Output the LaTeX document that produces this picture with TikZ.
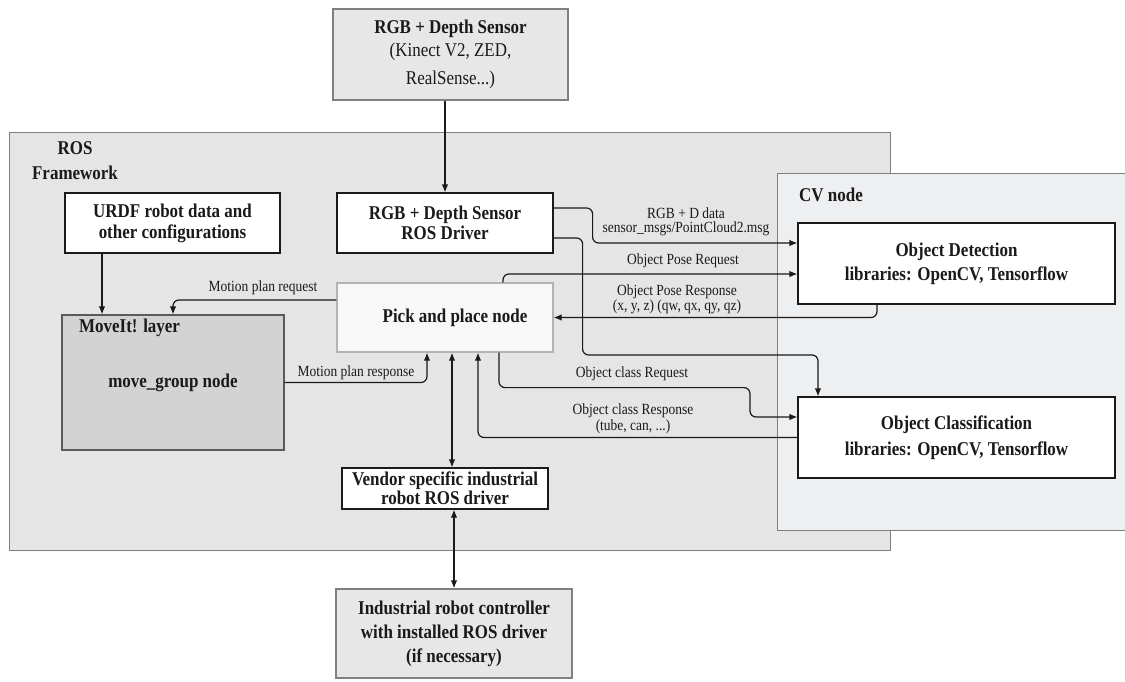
\documentclass[tikz,border=0pt]{standalone}
\usepackage{fontspec}
\setmainfont[FakeStretch=0.87]{Liberation Serif}
\usetikzlibrary{arrows.meta,calc}
\definecolor{rosfill}{HTML}{E5E5E5}
\definecolor{cvfill}{HTML}{EEEFF1}
\definecolor{outfill}{HTML}{E7E7E7}
\definecolor{movefill}{HTML}{D3D3D3}
\definecolor{pickfill}{HTML}{F8F8F8}
\definecolor{edgegray}{HTML}{808080}
\definecolor{ink}{HTML}{1A1A1A}
\newcommand\BFbig{\fontsize{19.5}{21}\selectfont\bfseries}
\newcommand\RMbig{\fontsize{19.5}{21}\selectfont}
\newcommand\SMlbl{\fontsize{15.5}{13}\selectfont}
\begin{document}
\begin{tikzpicture}[x=1pt,y=-1pt,
  container/.style={draw=edgegray, line width=1pt, inner sep=0pt},
  box/.style={draw=ink, line width=1.2pt, fill=white, inner sep=0pt, align=center, font=\BFbig, text=ink},
  outbox/.style={draw=edgegray, line width=1.2pt, fill=outfill, inner sep=0pt, align=center, text=ink},
  title/.style={font=\BFbig, text=ink, inner sep=0pt},
  lbl/.style={font=\SMlbl, text=ink, inner sep=0pt, align=center},
  conn/.style={draw=ink, line width=1.2pt, rounded corners=6pt},
  arr/.style={conn, -{Latex[length=8pt,width=6.5pt]}},
  dbl/.style={conn, {Latex[length=8pt,width=6.5pt]}-{Latex[length=8pt,width=6.5pt]}}
]
\useasboundingbox (0,0) rectangle (1125,681);

% containers
\node[container, fill=rosfill, minimum width=881pt, minimum height=418pt] (ros) at (449.5,341) {};
\node[container, fill=cvfill, minimum width=352pt, minimum height=357pt] (cv) at (953,351.5) {};
\node[title] (rostitle) at (75,148) {ROS};
\node[title] (rosfw) at (75,173) {Framework};
\node[title, anchor=west] (cvtitle) at (799,195) {CV node};

% outside boxes
\node[outbox, minimum width=235pt, minimum height=91pt, font=\RMbig, execute at begin node=\setlength{\baselineskip}{23pt}] (sensor) at (450.5,54.5)
  {\textbf{RGB + Depth Sensor}\\(Kinect V2, ZED,\\[5pt]RealSense...)};
\node[outbox, minimum width=236pt, minimum height=89pt, font=\BFbig, execute at begin node=\setlength{\baselineskip}{24pt}] (ctrl) at (454,633.5)
  {Industrial robot controller\\with installed ROS driver\\(if necessary)};

% inner boxes
\node[box, minimum width=215pt, minimum height=60pt] (urdf) at (172.5,223) {URDF robot data and\\other configurations};
\node[box, fill=movefill, draw=edgegray!70!black, minimum width=222pt, minimum height=135pt] (moveit) at (173,382.5) {move\_group node};
\node[title, anchor=west] (movetitle) at (79,328) {MoveIt! layer};
\node[box, minimum width=216pt, minimum height=60pt, execute at begin node=\setlength{\baselineskip}{19.5pt}] (driver) at (445,223) {RGB + Depth Sensor\\ROS Driver};
\node[box, fill=pickfill, draw=edgegray!60, minimum width=216pt, minimum height=69pt] (pick) at (445,317.5) {\hspace*{20pt}Pick and place node};
\node[box, minimum width=317pt, minimum height=81pt, execute at begin node=\setlength{\baselineskip}{24pt}] (det) at (956.5,263.5) {Object Detection\\libraries: OpenCV, Tensorflow};
\node[box, minimum width=317pt, minimum height=81pt, execute at begin node=\setlength{\baselineskip}{26.5pt}] (cls) at (956.5,437.5) {Object Classification\\libraries: OpenCV, Tensorflow};
\node[box, minimum width=206pt, minimum height=41pt, execute at begin node=\setlength{\baselineskip}{17pt}] (vendor) at (445,488.5) {Vendor specific industrial\\robot ROS driver};

% connectors
\draw[arr] (driver.north |- sensor.south) -- (driver.north);
\draw[arr] ([xshift=-70.5pt]urdf.south) -- ([xshift=-70.5pt]urdf.south |- moveit.north);
\draw[arr] ([yshift=17.5pt]pick.west) -| (moveit.north);
\draw[arr] (moveit.east) -| ([xshift=-18pt]pick.south);
\draw[dbl] ([xshift=7pt]pick.south) -- ([xshift=7pt]vendor.north);
\draw[dbl] (ctrl.north |- vendor.south) -- (ctrl.north);
\draw[arr] ([yshift=15pt]driver.east) -- ++(39,0) |- ([yshift=20.5pt]det.west);
\draw[arr] ([yshift=-15pt]driver.east) -- ++(29,0) -- ++(0,117) -| ([xshift=-138.5pt]cls.north);
\draw[arr] ([xshift=58pt]pick.north) |- ([yshift=-10.5pt]det.west);
\draw[arr] ([xshift=-79.5pt]det.south) |- (pick.east);
\draw[arr] ([xshift=54pt]pick.south) -- ++(0,35) -- ++(251,0) |- ([yshift=20.5pt]cls.west);
\draw[arr] (cls.west) -| ([xshift=33pt]pick.south);

% connector labels
\node[lbl] (lmpreq) at (263,288) {Motion plan request};
\node[lbl] (lmpres) at (356,373) {Motion plan response};
\node[lbl, execute at begin node=\setlength{\baselineskip}{14pt}] (lrgbd) at (686,222) {RGB + D data\\sensor\_msgs/PointCloud2.msg};
\node[lbl] (lposereq) at (683,261) {Object Pose Request};
\node[lbl, execute at begin node=\setlength{\baselineskip}{12.5pt}] (lposeres) at (677,299) {Object Pose Response\\(x, y, z) (qw, qx, qy, qz)};
\node[lbl] (lclsreq) at (632,374) {Object class Request};
\node[lbl, execute at begin node=\setlength{\baselineskip}{16pt}] (lclsres) at (633,419) {Object class Response\\(tube, can, ...)};
\end{tikzpicture}
\end{document}
